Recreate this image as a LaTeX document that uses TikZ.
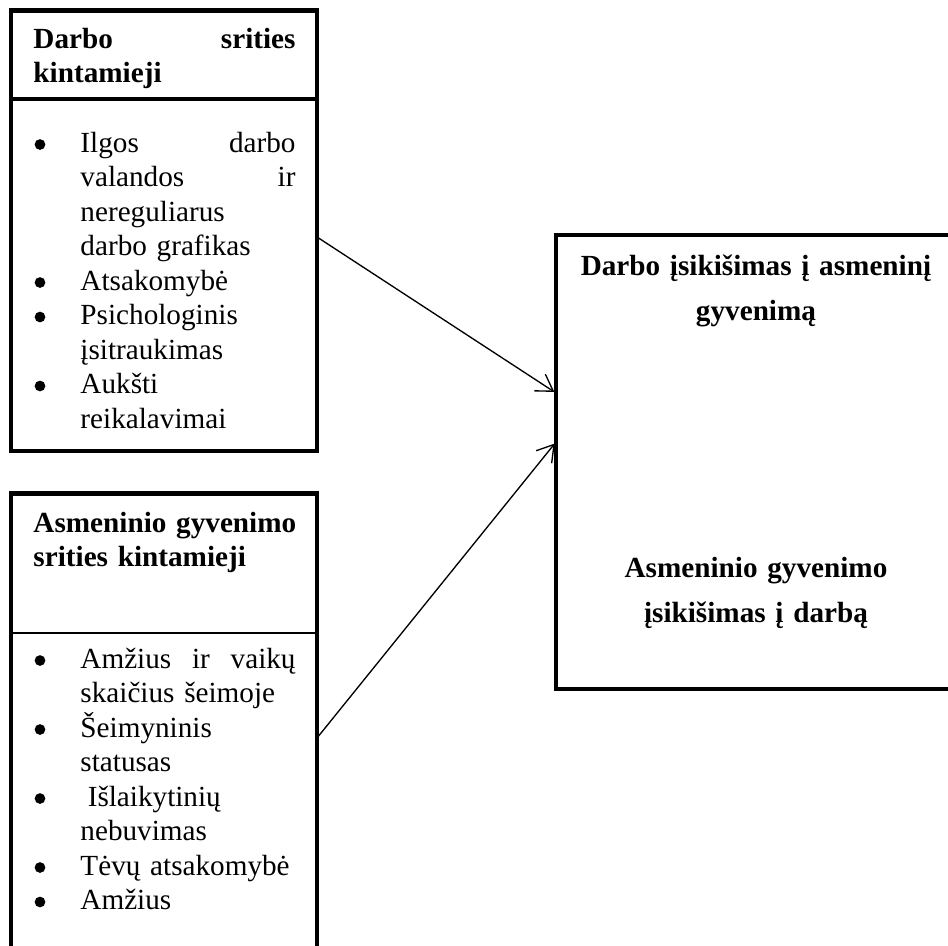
\documentclass[tikz,border=0pt]{standalone}
\usepackage{fontspec}
\setmainfont{Liberation Serif}
\usetikzlibrary{arrows.meta}
\hbadness=10000
\hyphenpenalty=10000
\tikzset{
  frame/.style={draw, line width=1.65pt, inner sep=0pt, outer sep=0pt},
  head/.style={font=\bfseries\fontsize{12}{14.18}\selectfont, anchor=base west,
    inner sep=0pt, align=left, text width=107.7pt},
  items/.style={font=\fontsize{12}{14.18}\selectfont, anchor=base west,
    inner sep=0pt, align=left, text width=88.4pt},
  title/.style={font=\bfseries\fontsize{12}{18.7}\selectfont, anchor=base,
    inner sep=0pt, align=center, text width=150pt},
  link/.style={line width=0.55pt, shorten >=0.8pt,
    -{Straight Barb[length=6.6pt, width=8.2pt, line width=0.55pt]}}
}
\begin{document}
\begin{tikzpicture}[x=0.411pt, y=-0.411pt]
\useasboundingbox (0,0) rectangle (948,946);
\clip (0,0) rectangle (948,946);

% frames
\node[frame, minimum width={306*0.411pt}, minimum height={440.5*0.411pt}] (work) at (164,230.75) {};
\node[frame, minimum width={306*0.411pt}, minimum height={506.5*0.411pt}] (life) at (164,746.75) {};
\node[frame, minimum width={444*0.411pt}, minimum height={454*0.411pt}] (impact) at (778,462) {};

% header rules
\draw[line width=1.65pt] (work.west |- 0,99) -- (work.east |- 0,99);
\draw[line width=0.55pt] (life.west |- 0,633) -- (life.east |- 0,633);

% work domain
\node[head] (workhead) at (33,48) {Darbo\hfill srities\\kintamieji};
\node[items] (worklist) at (80,152) {Ilgos\hfill darbo\\valandos\hfill ir\\nereguliarus\\darbo grafikas\\Atsakomybė\\Psichologinis\\įsitraukimas\\Aukšti\\reikalavimai};
\foreach \b in {152,290,324.5,393.5} \fill (40,{\b-7.5}) circle[radius=2.2pt];

% personal life domain
\node[head] (lifehead) at (33,532) {\mbox{Asmeninio gyvenimo}\\srities kintamieji};
\node[items] (lifelist) at (80,668) {Amžius\hfill ir\hfill vaikų\\skaičius šeimoje\\Šeimyninis\\statusas\\\hspace*{3pt}Išlaikytinių\\nebuvimas\\Tėvų atsakomybė\\Amžius};
\foreach \b in {668,737,806,875,909.5} \fill (40,{\b-7.5}) circle[radius=2.2pt];

% interference
\node[title] (wtol) at (756,275) {Darbo įsikišimas į asmeninį\\gyvenimą};
\node[title] (ltow) at (756,577) {Asmeninio gyvenimo\\įsikišimas į darbą};

% links
\coordinate (wo) at (work.east |- 0,237);
\coordinate (wi) at (impact.west |- 0,393);
\coordinate (lo) at (life.east |- 0,738);
\coordinate (li) at (impact.west |- 0,442);
\draw[link] (wo) -- (wi);
\draw[link] (lo) -- (li);
\end{tikzpicture}
\end{document}
